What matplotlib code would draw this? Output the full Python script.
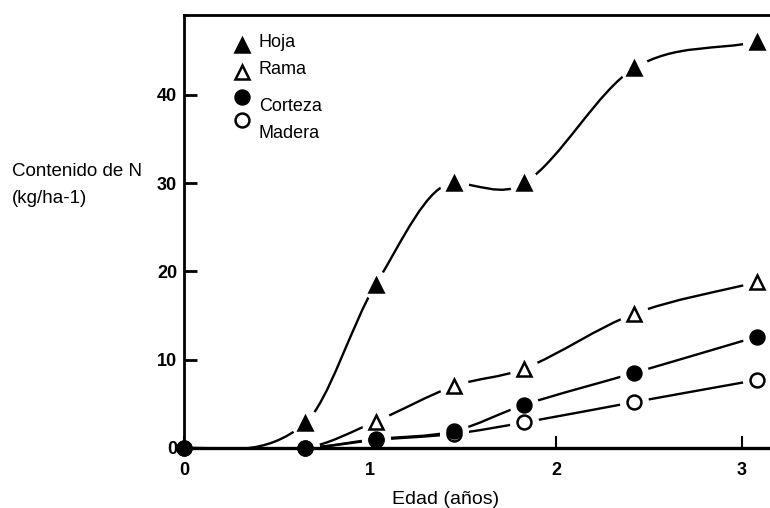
import numpy as np
import matplotlib
matplotlib.use("Agg")
import matplotlib.pyplot as plt
from matplotlib.path import Path
from matplotlib.patches import PathPatch
from matplotlib import font_manager

# ---- data ----
edad = [0.0, 0.65, 1.03, 1.45, 1.83, 2.42, 3.08]
hoja = [0.0, 2.8, 18.5, 30.0, 30.0, 43.0, 46.0]
rama = [0.0, 0.0, 3.0, 7.0, 9.0, 15.2, 18.8]
corteza = [0.0, 0.0, 1.0, 1.9, 4.9, 8.5, 12.6]
madera = [0.0, 0.0, 0.9, 1.6, 2.9, 5.2, 7.7]
series_names = ["Hoja", "Rama", "Corteza", "Madera"]
yticks = [0, 10, 20, 30, 40]
xticks = [0, 1, 2, 3]

avail = {f.name for f in font_manager.fontManager.ttflist}
fams = [f for f in ["Liberation Sans Narrow", "Liberation Sans", "DejaVu Sans"] if f in avail]
plt.rcParams['font.family'] = fams

fig = plt.figure(figsize=(7.7, 5.08), dpi=100)
ax = fig.add_axes([184/770, 60/508, 1 - 184/770, (448-15)/508])
ax.set_xlim(0, (770-184)/186.0)
ax.set_ylim(0, (448-15)/8.83)


def smooth_path(x, y):
    x = np.asarray(x, float); y = np.asarray(y, float)
    n = len(x)
    d = np.diff(y) / np.diff(x)
    m = np.zeros(n)
    m[0] = 0.0
    m[-1] = d[-1]
    for i in range(1, n-1):
        if d[i] == 0 and d[i-1] != 0:
            m[i] = 0.0
        else:
            m[i] = (y[i+1]-y[i-1])/(x[i+1]-x[i-1])
    verts = [(x[0], y[0])]
    codes = [Path.MOVETO]
    for i in range(n-1):
        h = x[i+1]-x[i]
        verts += [(x[i]+h/3, y[i]+m[i]*h/3), (x[i+1]-h/3, y[i+1]-m[i+1]*h/3), (x[i+1], y[i+1])]
        codes += [Path.CURVE4]*3
    return Path(verts, codes)


lw = 1.7
for vals in [hoja, rama, corteza, madera]:
    p = smooth_path(edad, vals)
    ax.add_patch(PathPatch(p, facecolor='none', edgecolor='black', lw=lw, zorder=2, clip_on=True))

styles = {
    "Hoja": dict(marker='^', mfc='black', mec='black'),
    "Rama": dict(marker='^', mfc='white', mec='black'),
    "Corteza": dict(marker='o', mfc='black', mec='black'),
    "Madera": dict(marker='o', mfc='white', mec='black'),
}
data = {"Hoja": hoja, "Rama": rama, "Corteza": corteza, "Madera": madera}

# white halos -> gaps in the curves around markers
for name in ["Hoja", "Rama", "Madera", "Corteza"]:
    xs = np.array(edad); ys = np.array(data[name])
    keep = xs > 0
    if styles[name]['marker'] == '^':
        keep &= ys > 0
    ax.scatter(xs[keep], ys[keep], s=21**2, c='white', marker='o', linewidths=0,
               zorder=3, clip_on=False)

for name in ["Hoja", "Rama", "Madera", "Corteza"]:
    xs = np.array(edad); ys = np.array(data[name])
    st = styles[name]
    keep = np.ones_like(ys, bool)
    if st['marker'] == '^':
        keep = ys > 0
    ax.plot(xs[keep], ys[keep], ls='none', marker=st['marker'], ms=10, mfc=st['mfc'], mec=st['mec'],
            mew=1.8, zorder=5, clip_on=False)

ax.spines['right'].set_visible(False)
ax.spines['left'].set_linewidth(2.0)
ax.spines['top'].set_linewidth(2.0)
ax.spines['bottom'].set_linewidth(2.4)
for s in ['left', 'top', 'bottom']:
    ax.spines[s].set_zorder(4)

ax.set_yticks(yticks)
ax.set_xticks(xticks)
ax.tick_params(axis='y', direction='in', length=9, width=2, pad=5, labelsize=13)
ax.tick_params(axis='x', direction='in', length=9, width=1.5, pad=10, labelsize=13)
for lab in ax.get_xticklabels() + ax.get_yticklabels():
    lab.set_fontweight('bold')

# axis labels
fig.text(12/770, 1 - 176/508, "Contenido de N", fontsize=13.5, ha='left', va='baseline')
fig.text(12/770, 1 - 203/508, "(kg/ha-1)", fontsize=13.5, ha='left', va='baseline')
fig.text(446/770, 1 - 504/508, "Edad (años)", fontsize=14, ha='center', va='baseline')

# legend (manual)
leg_marker_y = [45, 72, 97, 120]
leg_text_y = [47, 74, 111, 138]
for name, my, ty in zip(series_names, leg_marker_y, leg_text_y):
    st = styles[name]
    ax.plot([242/770], [1 - my/508], transform=fig.transFigure, ls='none', marker=st['marker'], ms=10,
            mfc=st['mfc'], mec=st['mec'], mew=1.8, clip_on=False, zorder=6)
    fig.text(259/770, 1 - ty/508, name, fontsize=13, ha='left', va='baseline')

fig.savefig("out.png", dpi=100)
